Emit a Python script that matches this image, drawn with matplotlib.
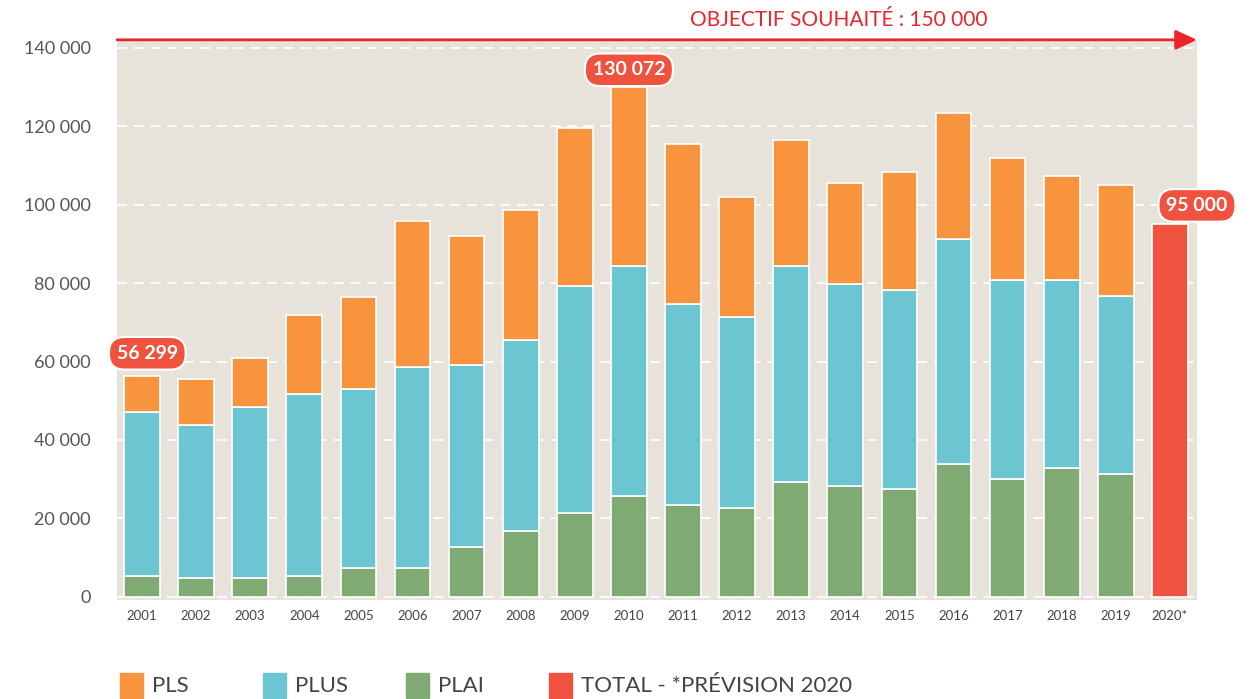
import numpy as np
import matplotlib.pyplot as plt
from matplotlib.patches import Rectangle

# données (logements sociaux financés)
annees = ["2001", "2002", "2003", "2004", "2005", "2006", "2007", "2008", "2009", "2010",
          "2011", "2012", "2013", "2014", "2015", "2016", "2017", "2018", "2019", "2020*"]
plai = [5400, 4900, 4900, 5400, 7400, 7400, 12800, 16700, 21500, 25600,
        23300, 22600, 29200, 28200, 27400, 33800, 30000, 32800, 31300]
plus = [41800, 38900, 43600, 46400, 45600, 51100, 46200, 48900, 57700, 58800,
        51300, 48700, 55200, 51500, 50800, 57500, 50800, 48000, 45400]
pls = [9099, 11800, 12300, 20000, 23400, 37400, 33000, 33100, 40300, 45672,
       40800, 30700, 32000, 25700, 30000, 32000, 31200, 26600, 28200]
total_2020 = 95000
objectif = 150000

c_pls = "#F7943D"
c_plus = "#6CC6D1"
c_plai = "#7FAA74"
c_total = "#EF5340"
fond = "#E7E3DA"

plt.rcParams['font.family'] = ['Lato', 'DejaVu Sans']

fig = plt.figure(figsize=(12.56, 6.99), dpi=100)
ax = fig.add_axes([0.0932, 0.1416, 0.8598, 0.8014])
ax.set_facecolor(fond)

x = np.arange(len(plai))
w = 0.66
plai_a = np.array(plai)
plus_a = np.array(plus)
pls_a = np.array(pls)
ax.bar(x, plai_a, w, color=c_plai, edgecolor="white", linewidth=1.2, zorder=3)
ax.bar(x, plus_a, w, bottom=plai_a, color=c_plus, edgecolor="white", linewidth=1.2, zorder=3)
ax.bar(x, pls_a, w, bottom=plai_a + plus_a, color=c_pls, edgecolor="white", linewidth=1.2, zorder=3)
ax.bar([len(plai)], [total_2020], w, color=c_total, edgecolor="white", linewidth=1.2, zorder=3)

ax.set_xlim(-0.46, 19.5)
ax.set_ylim(-800, 142000)
ticks = np.arange(0, 140001, 20000)
ax.set_yticks(ticks)
ax.set_yticklabels(["0" if t == 0 else f"{t // 1000} 000" for t in ticks],
                   fontsize=13, color="#555555")
ax.set_xticks(np.arange(len(annees)))
ax.set_xticklabels(annees, fontsize=9.5, color="#444444")
ax.tick_params(length=0)
ax.tick_params(axis="y", pad=19)
ax.tick_params(axis="x", pad=7)
for s in ax.spines.values():
    s.set_visible(False)
ax.yaxis.grid(True, color="white", linestyle=(0, (6, 4)), linewidth=1.2, zorder=1)
ax.set_axisbelow(True)

# flèche objectif
ax.annotate("", xy=(1.0, 1.0), xytext=(0.0, 1.0), xycoords="axes fraction",
            arrowprops=dict(arrowstyle="-|>,head_length=1.3,head_width=0.6",
                            color="#E8262C", lw=2, shrinkA=0, shrinkB=0),
            annotation_clip=False)
fig.text(0.668, 0.971, f"OBJECTIF SOUHAITÉ : {objectif // 1000} 000", color="#E8262C",
         fontsize=15, ha="center", va="center")

# étiquettes arrondies
boite = dict(boxstyle="round,pad=0.4,rounding_size=0.8", fc=c_total, ec="white", lw=1.5)
total_2001 = plai[0] + plus[0] + pls[0]
total_2010 = plai[9] + plus[9] + pls[9]
ax.text(0.1, total_2001 + 5800, f"{total_2001 // 1000} {total_2001 % 1000:03d}",
        ha="center", va="center", color="white", fontsize=14, fontweight="bold",
        bbox=boite, zorder=5)
ax.text(9, total_2010 + 4300, f"{total_2010 // 1000} {total_2010 % 1000:03d}",
        ha="center", va="center", color="white", fontsize=14, fontweight="bold",
        bbox=boite, zorder=5)
ax.text(19.5, total_2020 + 4800, f"{total_2020 // 1000} {total_2020 % 1000:03d}",
        ha="center", va="center", color="white", fontsize=14, fontweight="bold",
        bbox=boite, zorder=5, clip_on=False)

# légende
legende = [("PLS", c_pls), ("PLUS", c_plus), ("PLAI", c_plai), ("TOTAL - *PRÉVISION 2020", c_total)]
for i, (nom, c) in enumerate(legende):
    x0 = (120 + 143 * i) / 1256
    fig.add_artist(Rectangle((x0, 0.002), 23 / 1256, 25 / 699, transform=fig.transFigure,
                             color=c))
    fig.text(x0 + 32 / 1256, 0.018, nom, fontsize=16, color="#444444", va="center")

fig.savefig("out.png", dpi=100, facecolor="white")
